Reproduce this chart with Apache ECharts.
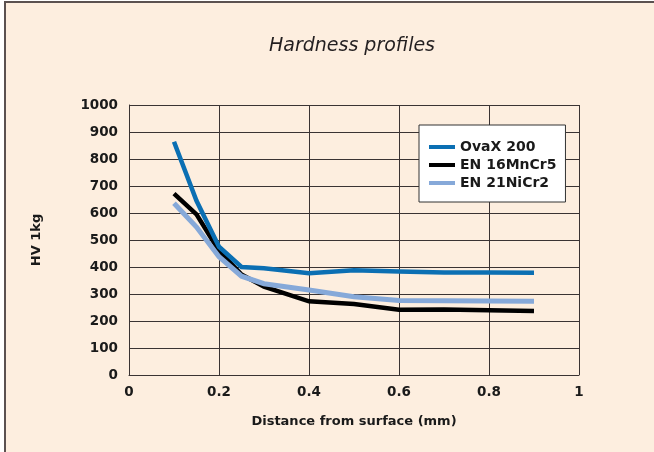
<!DOCTYPE html>
<html>
<head>
<meta charset="utf-8">
<script src="https://cdn.jsdelivr.net/npm/echarts@6/dist/echarts.min.js"></script>
<style>
  html, body { margin: 0; padding: 0; background: #ffffff; }
  .frame {
    position: absolute; left: 4px; top: 1px; width: 650px; height: 451px;
    background: #fdeedf; border-left: 2px solid #5b5150; border-top: 2px solid #5b5150;
    box-sizing: border-box;
  }
  #chart { position: absolute; left: 0; top: 0; width: 654px; height: 452px; }
</style>
</head>
<body>
<div class="frame"></div>
<div id="chart"></div>
<script>
// distance from surface (mm)
const distance = [0.1, 0.15, 0.2, 0.25, 0.3, 0.4, 0.5, 0.6, 0.7, 0.8, 0.9];
const ovax200 = [864, 645, 475, 400, 395, 377, 388, 383, 380, 380, 379];
const en16MnCr5 = [672, 595, 460, 372, 327, 273, 263, 242, 243, 240, 237];
const en21NiCr2 = [636, 548, 438, 366, 338, 315, 290, 276, 275, 274, 273];

const seriesNames = ["OvaX 200", "EN 16MnCr5", "EN 21NiCr2"];
const seriesColors = ["#0b6fb3", "#000000", "#86a9d9"];

const chart = echarts.init(document.getElementById("chart"));
const font = "'DejaVu Sans', sans-serif";
const ink = "#1a1a1a";
const gridInk = "#3a3333";
const pairs = (ys) => distance.map((x, i) => [x, ys[i]]);

chart.setOption({
  backgroundColor: "transparent",
  textStyle: { fontFamily: font },
  title: {
    text: "Hardness profiles",
    left: 347,
    top: 32,
    textAlign: "center",
    textStyle: { fontFamily: font, fontSize: 19, fontWeight: "normal", fontStyle: "italic", color: "#231f20" },
  },
  grid: { left: 129, right: 75, top: 105, bottom: 77 },
  legend: {
    orient: "vertical",
    left: 419,
    top: 125,
    data: seriesNames.map((name) => ({ name, icon: "rect" })),
    backgroundColor: "#ffffff",
    borderColor: "#333333",
    borderWidth: 1,
    padding: [15, 9, 12, 10],
    itemWidth: 26,
    itemHeight: 4,
    itemGap: 4,
    textStyle: { fontFamily: font, fontSize: 14, fontWeight: "bold", color: ink },
  },
  xAxis: {
    type: "value",
    min: 0,
    max: 1,
    interval: 0.2,
    name: "Distance from surface (mm)",
    nameLocation: "middle",
    nameGap: 40,
    nameTextStyle: { fontFamily: font, fontSize: 13, fontWeight: "bold", color: ink },
    axisLine: { lineStyle: { color: gridInk, width: 1 } },
    axisTick: { show: false },
    axisLabel: { margin: 10, fontSize: 13.5, fontWeight: "bold", color: ink },
    splitLine: { show: true, lineStyle: { color: gridInk, width: 1 } },
  },
  yAxis: {
    type: "value",
    min: 0,
    max: 1000,
    interval: 100,
    name: "HV 1kg",
    nameLocation: "middle",
    nameGap: 86,
    nameTextStyle: { fontFamily: font, fontSize: 13, fontWeight: "bold", color: ink },
    axisLine: { show: true, lineStyle: { color: gridInk, width: 1 } },
    axisTick: { show: false },
    axisLabel: { margin: 11, fontSize: 13.5, fontWeight: "bold", color: ink, formatter: (v) => String(v) },
    splitLine: { show: true, lineStyle: { color: gridInk, width: 1 } },
  },
  series: [
    { name: seriesNames[0], data: pairs(ovax200), z: 4 },
    { name: seriesNames[1], data: pairs(en16MnCr5), z: 2 },
    { name: seriesNames[2], data: pairs(en21NiCr2), z: 3 },
  ].map((s, i) => ({
    ...s,
    type: "line",
    symbol: "none",
    color: seriesColors[i],
    lineStyle: { width: i === 2 ? 5 : 4.5, color: seriesColors[i], join: "miter" },
    animation: false,
  })),
});
</script>
</body>
</html>
